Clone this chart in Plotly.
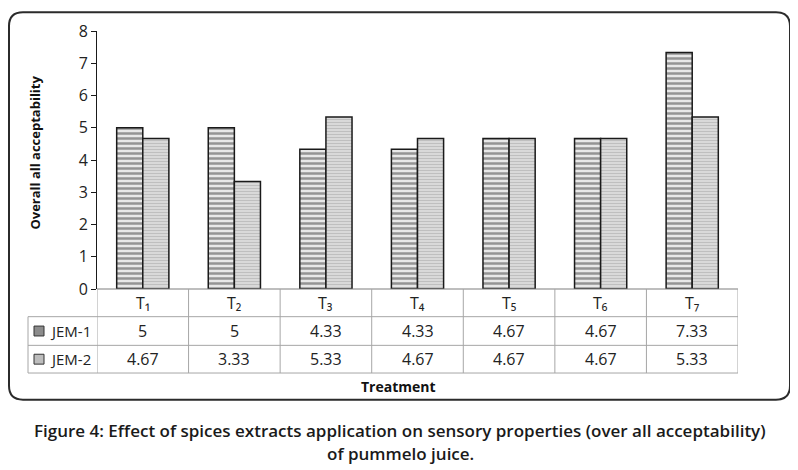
import plotly.graph_objects as go

treatments = ["T1", "T2", "T3", "T4", "T5", "T6", "T7"]
tick_labels = ["T₁", "T₂", "T₃", "T₄", "T₅", "T₆", "T₇"]
jem1 = [5, 5, 4.33, 4.33, 4.67, 4.67, 7.33]
jem2 = [4.67, 3.33, 5.33, 4.67, 4.67, 4.67, 5.33]
series_names = ["JEM-1", "JEM-2"]

# the page puts the figure 8px in from the top left, so work in screen pixels
OFF = 8
FW, FH = 798 - OFF, 470 - OFF
L, R, T, B = 97, 738, 28, 289
W, H = R - L, B - T


def px(x):
    return (x - L) / W


def py(y):
    return (B - y) / H


fig = go.Figure()
fig.add_trace(go.Bar(x=treatments, y=jem1, name=series_names[0],
                     marker=dict(color="#dcdcdc", line=dict(color="#1a1a1a", width=1.5),
                                 pattern=dict(shape="-", size=5, solidity=0.5,
                                              fgcolor="#404040", bgcolor="#e8e8e8"))))
fig.add_trace(go.Bar(x=treatments, y=jem2, name=series_names[1],
                     marker=dict(color="#d0d0d0", line=dict(color="#1a1a1a", width=1.5),
                                 pattern=dict(shape="-", size=3, solidity=0.45,
                                              fgcolor="#a0a0a0", bgcolor="#dedede"))))

shapes = []
grid = "#a6a6a6"
# table lines
shapes.append(dict(type="line", xref="paper", yref="paper", x0=0, x1=1, y0=py(289), y1=py(289),
                   line=dict(color="#7f7f7f", width=1.2)))
for yy in [317, 346, 374]:
    shapes.append(dict(type="line", xref="paper", yref="paper", x0=px(28), x1=1, y0=py(yy), y1=py(yy),
                       line=dict(color=grid, width=1)))
for i in range(len(treatments) + 1):
    shapes.append(dict(type="line", xref="x", yref="paper", x0=i - 0.5, x1=i - 0.5, y0=py(289), y1=py(374),
                       line=dict(color=grid, width=1)))
shapes.append(dict(type="line", xref="paper", yref="paper", x0=px(28), x1=px(28), y0=py(317), y1=py(374),
                   line=dict(color=grid, width=1)))

# legend keys
for yy, col in [(331.5, "#8c8c8c"), (360, "#bdbdbd")]:
    shapes.append(dict(type="rect", xref="paper", yref="paper", x0=px(34), x1=px(44),
                       y0=py(yy + 5), y1=py(yy - 5), fillcolor=col, line=dict(color="#333", width=1)))

# rounded frame
fl, fr, ft, fb, rad = 9, 790, 9, 401, 14
rx, ry = rad / W, rad / H
path = (f"M {px(fl)+rx} {py(ft)} L {px(fr)-rx} {py(ft)} Q {px(fr)} {py(ft)} {px(fr)} {py(ft)-ry} "
        f"L {px(fr)} {py(fb)+ry} Q {px(fr)} {py(fb)} {px(fr)-rx} {py(fb)} "
        f"L {px(fl)+rx} {py(fb)} Q {px(fl)} {py(fb)} {px(fl)} {py(fb)+ry} "
        f"L {px(fl)} {py(ft)-ry} Q {px(fl)} {py(ft)} {px(fl)+rx} {py(ft)} Z")
shapes.append(dict(type="path", xref="paper", yref="paper", path=path,
                   line=dict(color="#2b2b2b", width=2)))

font = "Open Sans, DejaVu Sans, sans-serif"
ann = []


def label(x, y, text, size=16, xref="paper", **kw):
    a = dict(x=x, y=py(y), xref=xref, yref="paper", text=text, showarrow=False,
             xanchor=kw.pop("xanchor", "center"), yanchor="middle",
             font=dict(size=size, color=kw.pop("color", "#222"), family=font, weight=kw.pop("weight", 400)))
    a.update(kw)
    ann.append(a)


for i, lab in enumerate(tick_labels):
    label(i, 303, lab, xref="x")
    label(i, 331.5, str(jem1[i]), xref="x")
    label(i, 360, str(jem2[i]), xref="x")
for yy, name in [(331.5, series_names[0]), (360, series_names[1])]:
    label(px(48), yy, name, size=15, xanchor="left")

label(px(398), 388, "<b>Treatment</b>", size=14, color="#111")
label(px(35), 151, "<b>Overall all acceptability</b>", size=13, color="#111", textangle=-90)
label(px(400), 432,
      "Figure 4: Effect of spices extracts application on sensory properties (over all acceptability)",
      size=17, color="#1a1a1a", weight=600)
label(px(400), 455, "of pummelo juice.", size=17, color="#1a1a1a", weight=600)

fig.update_layout(
    width=FW, height=FH,
    margin=dict(l=L - OFF, r=798 - R, t=T - OFF, b=470 - B, pad=0),
    paper_bgcolor="white", plot_bgcolor="white",
    barmode="group", bargap=0.43, bargroupgap=0,
    showlegend=False,
    shapes=shapes, annotations=ann,
    xaxis=dict(showticklabels=False, showline=False, ticks="", showgrid=False, zeroline=False,
               range=[-0.5, 6.5]),
    yaxis=dict(range=[0, 8], dtick=1, showgrid=False, zeroline=False, showline=True,
               linecolor="#1a1a1a", linewidth=1, ticks="outside", ticklen=5, tickcolor="#1a1a1a",
               tickfont=dict(size=16, color="#222", family=font)),
)

fig.write_html("out.html")
